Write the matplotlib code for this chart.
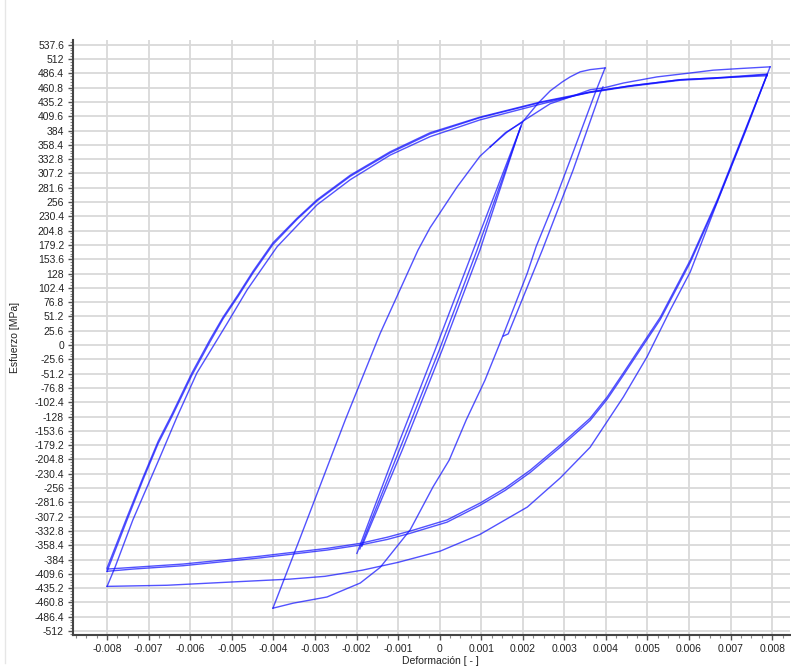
import matplotlib
matplotlib.use("Agg")
import matplotlib.pyplot as plt
from matplotlib.ticker import MultipleLocator, FuncFormatter
from matplotlib.lines import Line2D

# ciclos a +-0.002 (tres pasadas casi superpuestas)
def_002_a = [-0.00199, -0.00105, -0.00011, 0.00081, 0.00199]
esf_002_a = [-373, -188, -9, 170, 398]
def_002_b = [-0.00192, -0.00097, -0.00001, 0.00090, 0.00196]
esf_002_b = [-365, -188, -9, 170, 392]
def_002_c = [-0.00187, -0.00090, 0.00006, 0.00097, 0.00194]
esf_002_c = [-360, -188, -9, 170, 389]

# subida desde -0.004 (tramo comun)
def_sub_004 = [-0.00401, -0.00336, -0.00227, -0.00143, -0.00052, -0.00023, 0.00042, 0.00097, 0.00122]
esf_sub_004 = [-471, -346, -134, 21, 170, 210, 283, 338, 355]

# primer pico a +0.004
def_sub_004_q = [0.00122, 0.00158, 0.00199, 0.00218, 0.00237, 0.00266, 0.00295, 0.00314, 0.00338, 0.00362, 0.00398]
esf_sub_004_q = [355, 380, 399, 416, 433, 455, 471, 480, 489, 493, 496]

# segunda subida, sigue hasta +0.008
def_sub_008_ini = [0.00122, 0.00162, 0.00201, 0.00266, 0.00314, 0.00362, 0.00393,
                   0.00442, 0.00523, 0.00603, 0.00658, 0.00723, 0.00795]
esf_sub_008_ini = [355, 381, 401, 432, 444, 457, 460, 469, 480, 487, 492, 495, 498]

# bajada desde +0.004 hasta -0.004
def_baj_004_a = [0.00398, 0.00374, 0.00314, 0.00278, 0.00232, 0.00211, 0.00153, 0.00109, 0.00064,
                 0.00023, -0.00016, -0.00071, -0.00143, -0.00191, -0.00271, -0.00352, -0.00401]
esf_baj_004_a = [496, 451, 331, 260, 176, 129, 18, -63, -134,
                 -206, -254, -331, -398, -426, -451, -462, -471]

# segunda bajada desde +0.004 (se junta en el quiebre)
def_baj_004_b = [0.00393, 0.00386, 0.00321, 0.00247, 0.00165, 0.00153]
esf_baj_004_b = [462, 451, 313, 170, 20, 16]

# ciclos +-0.008, primera bajada (fina, por debajo)
def_baj_008_1 = [0.00795, 0.00735, 0.00670, 0.00603, 0.00555, 0.00499, 0.00442, 0.00362, 0.00290, 0.00211,
                 0.00097, 0.00001, -0.00100, -0.00186, -0.00276, -0.00360, -0.00496, -0.00656, -0.00800]
esf_baj_008_1 = [498, 381, 260, 131, 63, -21, -93, -183, -238, -290,
                 -339, -369, -389, -403, -414, -419, -424, -430, -432]

# primera subida desde -0.008 (fina)
def_sub_008_1 = [-0.00800, -0.00781, -0.00738, -0.00673, -0.00632, -0.00584, -0.00511, -0.00463, -0.00391,
                 -0.00336, -0.00295, -0.00215, -0.00119, -0.00023, 0.00097, 0.00242, 0.00362, 0.00458,
                 0.00579, 0.00658, 0.00788]
esf_sub_008_1 = [-432, -398, -313, -201, -129, -50, 39, 99, 176,
                 219, 251, 296, 340, 373, 403, 431, 453, 464,
                 475, 478, 482]

# ciclos estabilizados +-0.008 (subidas)
def_sub_008 = [-0.00800, -0.00752, -0.00713, -0.00677, -0.00644, -0.00596, -0.00553, -0.00521, -0.00485,
               -0.00449, -0.00401, -0.00343, -0.00295, -0.00215, -0.00119, -0.00023, 0.00097, 0.00242,
               0.00362, 0.00458, 0.00579, 0.00658, 0.00788]
esf_sub_008_a = [-399, -308, -236, -172, -124, -50, 9, 50, 90,
                 132, 183, 227, 260, 304, 346, 380, 408, 435,
                 453, 464, 475, 478, 485]
esf_sub_008_b = [-405, -313, -240, -176, -128, -54, 5, 47, 87,
                 129, 180, 225, 258, 302, 344, 378, 407, 434,
                 452, 463, 474, 477, 484]

# ciclos estabilizados +-0.008 (bajadas)
def_baj_008 = [0.00788, 0.00735, 0.00668, 0.00603, 0.00531, 0.00490, 0.00442, 0.00403, 0.00362, 0.00290,
               0.00218, 0.00158, 0.00097, 0.00018, -0.00071, -0.00126, -0.00191, -0.00271, -0.00352,
               -0.00432, -0.00497, -0.00617, -0.00738, -0.00800]
esf_baj_008_a = [485, 385, 260, 152, 50, 4, -50, -93, -131, -179,
                 -224, -256, -283, -313, -333, -344, -355, -364, -371,
                 -378, -383, -392, -398, -401]
esf_baj_008_b = [484, 383, 257, 148, 46, 0, -54, -97, -135, -183,
                 -228, -260, -287, -317, -337, -348, -358, -367, -374,
                 -381, -386, -395, -401, -405]

tramos = [
    (def_002_a, esf_002_a), (def_002_b, esf_002_b), (def_002_c, esf_002_c),
    (def_sub_004, esf_sub_004), (def_sub_004_q, esf_sub_004_q),
    (def_sub_008_ini, esf_sub_008_ini),
    (def_baj_004_a, esf_baj_004_a), (def_baj_004_b, esf_baj_004_b),
    (def_baj_008_1, esf_baj_008_1), (def_sub_008_1, esf_sub_008_1),
    (def_sub_008, esf_sub_008_a), (def_sub_008, esf_sub_008_b),
    (def_baj_008, esf_baj_008_a), (def_baj_008, esf_baj_008_b),
]

plt.rcParams['font.family'] = ['Liberation Sans', 'DejaVu Sans']

fig = plt.figure(figsize=(7.91, 6.67), dpi=100)
ax = fig.add_axes([0.0923, 0.048, 0.9065, 0.892])

for x, y in tramos:
    ax.plot(x, y, color='#1010ff', lw=1.0, alpha=0.72, solid_joinstyle='round')

ax.set_xlim(-0.00882, 0.00843)
ax.set_ylim(-519, 546)

ax.xaxis.set_major_locator(MultipleLocator(0.001))
ax.xaxis.set_minor_locator(MultipleLocator(0.00025))
ax.yaxis.set_major_locator(MultipleLocator(25.6))
ax.yaxis.set_minor_locator(MultipleLocator(5.12))


def fmt_x(v, pos):
    v = round(v, 4)
    if v == 0:
        return "0"
    return f"{v:g}"


def fmt_y(v, pos):
    s = f"{v:.1f}".rstrip('0').rstrip('.')
    return "0" if s in ("-0", "") else s


ax.xaxis.set_major_formatter(FuncFormatter(fmt_x))
ax.yaxis.set_major_formatter(FuncFormatter(fmt_y))

ax.grid(True, which='major', color='#d9d9d9', lw=1.3)
ax.set_axisbelow(True)
for s in ['top', 'right']:
    ax.spines[s].set_visible(False)
for s in ['left', 'bottom']:
    ax.spines[s].set_color('#444444')
    ax.spines[s].set_linewidth(1.5)

ax.tick_params(axis='both', which='major', labelsize=7.5, colors='#555555', labelcolor='#222222',
               length=3.5, width=1)
ax.tick_params(axis='both', which='minor', colors='#888888', length=2, width=0.8)
ax.tick_params(axis='x', which='major', pad=3)
ax.tick_params(axis='y', which='major', pad=3)

ax.set_xlabel("Deformación [ - ]", fontsize=7.5, color='#222222')
ax.set_ylabel("Esfuerzo [MPa]", fontsize=7.5, color='#222222')
ax.xaxis.set_label_coords(0.512, -0.036)
ax.yaxis.set_label_coords(-0.074, 0.5)

# borde tenue del panel
fig.add_artist(Line2D([0.0065, 0.0065], [0.006, 1.0], color='#e6e6e6', lw=1))

fig.savefig("out.png", dpi=100)
